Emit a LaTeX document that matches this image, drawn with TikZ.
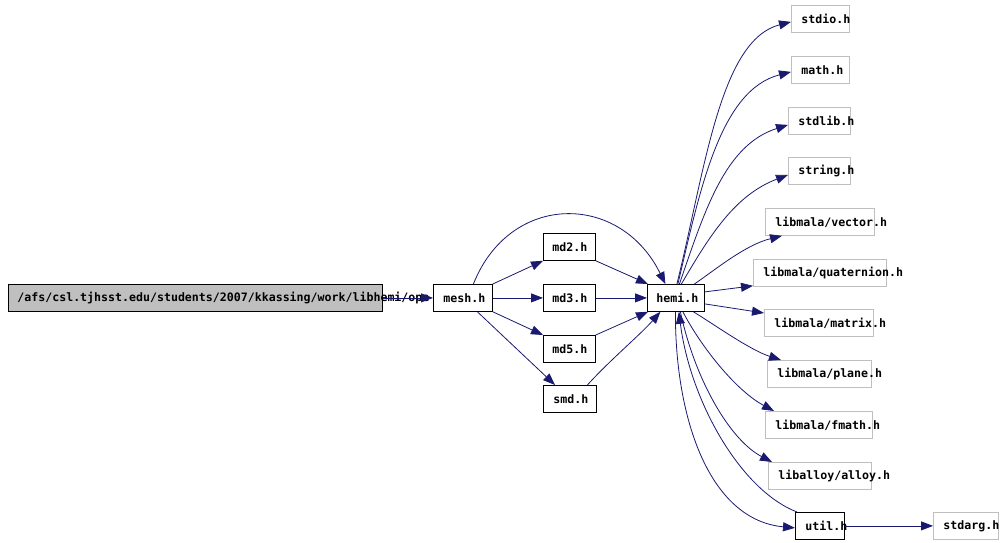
\documentclass[tikz,border=0pt]{standalone}
\usepackage{fontspec}
\newfontfamily\hdrfont{DejaVu Sans Mono}
\usepackage{xcolor}
\usetikzlibrary{arrows.meta}
\definecolor{incblue}{RGB}{25,25,112}
\definecolor{leafgray}{RGB}{191,191,191}

\begin{document}
\begin{tikzpicture}[x=1pt, y=-1pt,
  hdr/.style={draw=black, fill=white, line width=0.8pt, anchor=north west,
              minimum height=27pt, inner xsep=10pt, inner ysep=0pt, align=left,
              font={\hdrfont\bfseries\fontsize{11.6}{13}\selectfont\hyphenpenalty=10000}},
  sys/.style={hdr, draw=leafgray},
  inc/.style={draw=incblue, line width=0.8pt, -{Triangle[length=12pt,width=9pt]}}]
\useasboundingbox (0,0) rectangle (1002,543);
%
\node[hdr, fill=leafgray, text width=356pt, inner xsep=9pt] (main) at (8,284) {/afs/csl.tjhsst.edu/students/2007/kkassing/work/libhemi/ope};
\node[hdr, text width=39pt] (mesh) at (433,284) {mesh.h};
\node[hdr, text width=34pt, inner xsep=9pt] (md2) at (543,233) {md2.h};
\node[hdr, text width=34pt, inner xsep=9pt] (md3) at (543,284) {md3.h};
\node[hdr, text width=34pt, inner xsep=9pt] (md5) at (543,335) {md5.h};
\node[hdr, text width=33pt] (smd) at (543,385) {smd.h};
\node[hdr, text width=39pt, inner xsep=9pt] (hemi) at (647,284) {hemi.h};
\node[hdr, text width=29pt] (util) at (795,512) {util.h};
%
\node[sys, text width=38pt] (stdio) at (791,5) {stdio.h};
\node[sys, text width=38pt] (math) at (791,56) {math.h};
\node[sys, text width=42pt] (stdlib) at (788,107) {stdlib.h};
\node[sys, text width=42pt] (string) at (788,157) {string.h};
\node[sys, text width=89pt] (vector) at (765,208) {libmala/vector.h};
\node[sys, text width=113pt] (quat) at (753,259) {libmala/quaternion.h};
\node[sys, text width=89pt] (matrix) at (764,309) {libmala/matrix.h};
\node[sys, text width=84pt] (plane) at (767,360) {libmala/plane.h};
\node[sys, text width=87pt] (fmath) at (765,411) {libmala/fmath.h};
\node[sys, text width=83pt] (alloy) at (768,462) {liballoy/alloy.h};
\node[sys, text width=45pt] (stdarg) at (933,512) {stdarg.h};
%
\draw[inc] (main.east) -- (mesh.west);
\draw[inc] (mesh.north east) -- (md2.south west);
\draw[inc] (mesh.east) -- (md3.west);
\draw[inc] (mesh.south east) -- (md5.north west);
\draw[inc] ([xshift=14.5pt]mesh.south) -- ([xshift=12pt]smd.north west);
\draw[inc] ([xshift=10.5pt]mesh.north) .. controls (510,192) and (620,192) .. ([xshift=-10.5pt]hemi.north);
\draw[inc] (md2.south east) -- ([xshift=1pt]hemi.north west);
\draw[inc] (md3.east) -- (hemi.west);
\draw[inc] (md5.north east) -- ([xshift=1pt]hemi.south west);
\draw[inc] ([xshift=17.5pt]smd.north) .. controls (610,360) and (640,335) .. ([xshift=-15.5pt]hemi.south);
%
\draw[inc] ([xshift=1pt]hemi.north) .. controls (705,170) and (720,40) .. ([yshift=-3pt]stdio.west);
\draw[inc] ([xshift=2pt]hemi.north) .. controls (700,190) and (720,90) .. ([yshift=-2pt]math.west);
\draw[inc] ([xshift=3.5pt]hemi.north) .. controls (705,210) and (725,145) .. ([yshift=-4pt]stdlib.west);
\draw[inc] ([xshift=5.5pt]hemi.north) .. controls (710,235) and (735,195) .. ([yshift=-4pt]string.west);
\draw[inc] ([xshift=18.5pt]hemi.north) .. controls (715,270) and (745,245) .. ([xshift=17pt]vector.south west);
\draw[inc] ([yshift=6pt]hemi.east) -- ([yshift=1pt]quat.south west);
\draw[inc] ([yshift=-6pt]hemi.east) -- ([yshift=-4pt]matrix.north west);
\draw[inc] ([xshift=17.5pt]hemi.south) .. controls (715,325) and (750,350) .. ([xshift=14pt]plane.north west);
\draw[inc] ([xshift=7pt]hemi.south) .. controls (700,345) and (735,390) .. ([xshift=9pt]fmath.north west);
\draw[inc] ([xshift=4.5pt]hemi.south) .. controls (695,380) and (730,440) .. ([xshift=4pt]alloy.north west);
\draw[inc] ([xshift=-0.5pt]hemi.south) .. controls (675,420) and (710,520) .. ([yshift=-2pt]util.west);
\draw[inc] ([xshift=2pt]util.north west) .. controls (740,490) and (690,400) .. ([xshift=3pt]hemi.south);
\draw[inc] (util.east) -- (stdarg.west);
\end{tikzpicture}
\end{document}
